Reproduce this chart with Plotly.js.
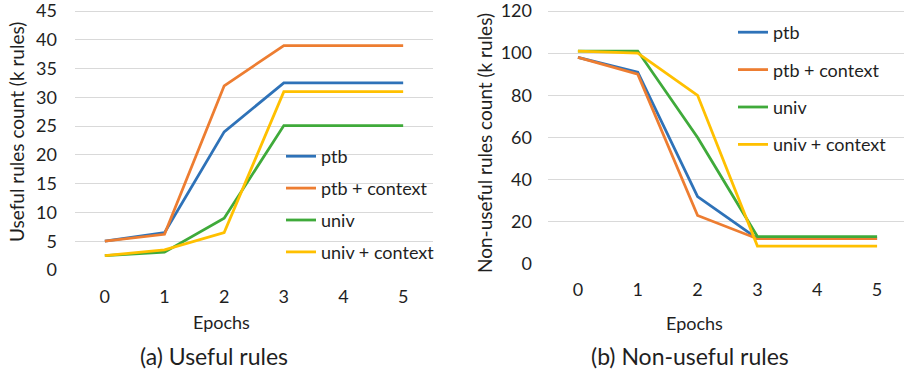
<!DOCTYPE html>
<html>
<head>
<meta charset="utf-8">
<script src="https://cdn.plot.ly/plotly-3.0.1.min.js"></script>
<style>
  html, body { margin: 0; padding: 0; background: #fff; }
  #chart { width: 904px; height: 377px; }
</style>
</head>
<body>
<div id="chart"></div>
<script>
// Epoch index shared by both panels
const epochs = [0, 1, 2, 3, 4, 5];
const seriesNames = ['ptb', 'ptb + context', 'univ', 'univ + context'];
const usefulTicks = [0, 5, 10, 15, 20, 25, 30, 35, 40, 45];
const nonUsefulTicks = [0, 20, 40, 60, 80, 100, 120];

// (a) Useful rules, thousands of rules
const usefulPtb = [5, 6.5, 24, 32.5, 32.5, 32.5];
const usefulPtbCtx = [5, 6.2, 32, 39, 39, 39];
const usefulUniv = [2.5, 3.1, 9, 25.1, 25.1, 25.1];
const usefulUnivCtx = [2.5, 3.5, 6.5, 31, 31, 31];

// (b) Non-useful rules, thousands of rules
const nonUsefulPtb = [98, 91, 32, 12, 12, 12];
const nonUsefulPtbCtx = [98, 90, 23, 12, 12, 12];
const nonUsefulUniv = [101, 101, 60, 13, 13, 13];
const nonUsefulUnivCtx = [101, 100, 80, 8.5, 8.5, 8.5];

const colors = ['#2E72B8', '#ED7D31', '#3FAA3A', '#FFC000'];
const FONT = 'Lato, "Open Sans", sans-serif';
const TXT = '#1f1f1f';
const W = 904, H = 377;
const px = x => x / W;
const py = y => 1 - y / H;

// Plot boxes reach a few pixels above the top gridline so that line stays
// clear of the box edge.
const Y0_A = 270, Y45_A = 11, TOP_A = 3;
const Y0_B = 264, Y120_B = 11, TOP_B = 3;
const maxA = 45 * (Y0_A - TOP_A) / (Y0_A - Y45_A);
const maxB = 120 * (Y0_B - TOP_B) / (Y0_B - Y120_B);

const useful = [usefulPtb, usefulPtbCtx, usefulUniv, usefulUnivCtx];
const nonUseful = [nonUsefulPtb, nonUsefulPtbCtx, nonUsefulUniv, nonUsefulUnivCtx];

const traces = [];
useful.forEach((ys, i) => traces.push({
  x: epochs, y: ys, name: seriesNames[i], type: 'scatter', mode: 'lines',
  line: {color: colors[i], width: 2.8}, xaxis: 'x', yaxis: 'y',
  legend: 'legend', legendgroup: 'a' + i, cliponaxis: false
}));
nonUseful.forEach((ys, i) => traces.push({
  x: epochs, y: ys, name: seriesNames[i], type: 'scatter', mode: 'lines',
  line: {color: colors[i], width: 2.8}, xaxis: 'x2', yaxis: 'y2',
  legend: 'legend2', legendgroup: 'b' + i, cliponaxis: false
}));

const xCommon = {
  tickmode: 'array', tickvals: epochs, ticktext: epochs.map(String),
  showgrid: false, zeroline: false, showline: false, ticks: '',
  tickfont: {family: FONT, size: 18, color: TXT}, fixedrange: true,
  ticklabeloverflow: 'allow'
};
const yCommon = {
  tickmode: 'array', showgrid: true, gridcolor: '#d9d9d9', gridwidth: 1, zeroline: false,
  showline: false, ticks: '', tickfont: {family: FONT, size: 18, color: TXT},
  fixedrange: true, ticklabeloverflow: 'allow'
};

const legendCommon = {
  font: {family: FONT, size: 18, color: TXT}, bgcolor: 'rgba(0,0,0,0)',
  borderwidth: 0, traceorder: 'grouped', itemwidth: 30, xanchor: 'left', yanchor: 'top'
};

const layout = {
  width: W, height: H,
  margin: {l: 0, r: 0, t: 0, b: 0},
  paper_bgcolor: '#fff', plot_bgcolor: '#fff',
  showlegend: true,
  xaxis: Object.assign({}, xCommon, {domain: [px(75), px(433)], range: [-0.5, 5.5], anchor: 'y', ticklabelstandoff: 14}),
  yaxis: Object.assign({}, yCommon, {domain: [py(Y0_A), py(TOP_A)], range: [0, maxA],
    tickvals: usefulTicks, ticktext: usefulTicks.map(String), anchor: 'x', ticklabelstandoff: 17}),
  xaxis2: Object.assign({}, xCommon, {domain: [px(548), 1], range: [-0.5, 5.45], anchor: 'y2', ticklabelstandoff: 13}),
  yaxis2: Object.assign({}, yCommon, {domain: [py(Y0_B), py(TOP_B)], range: [0, maxB],
    tickvals: nonUsefulTicks, ticktext: nonUsefulTicks.map(String), anchor: 'x2', ticklabelstandoff: 15}),
  legend: Object.assign({}, legendCommon, {x: px(281), y: py(138), tracegroupgap: 5.5}),
  legend2: Object.assign({}, legendCommon, {x: px(733), y: py(14), tracegroupgap: 11}),
  annotations: [
    {text: 'Useful rules count (k rules)', x: px(16), y: py(132), textangle: -90, font: {family: FONT, size: 19, color: TXT}},
    {text: 'Non-useful rules count (k rules)', x: px(484), y: py(143), textangle: -90, font: {family: FONT, size: 19, color: TXT}},
    {text: 'Epochs', x: px(221), y: py(322)},
    {text: 'Epochs', x: px(694), y: py(323)},
    {text: '(a) Useful rules', x: px(214), y: py(356), font: {family: FONT, size: 23, color: TXT}},
    {text: '(b) Non-useful rules', x: px(690), y: py(356), font: {family: FONT, size: 23, color: TXT}}
  ].map(a => Object.assign({
    xref: 'paper', yref: 'paper', showarrow: false, xanchor: 'center', yanchor: 'middle',
    font: {family: FONT, size: 18, color: TXT}
  }, a))
};

Plotly.newPlot('chart', traces, layout, {displayModeBar: false, staticPlot: true});
</script>
</body>
</html>
